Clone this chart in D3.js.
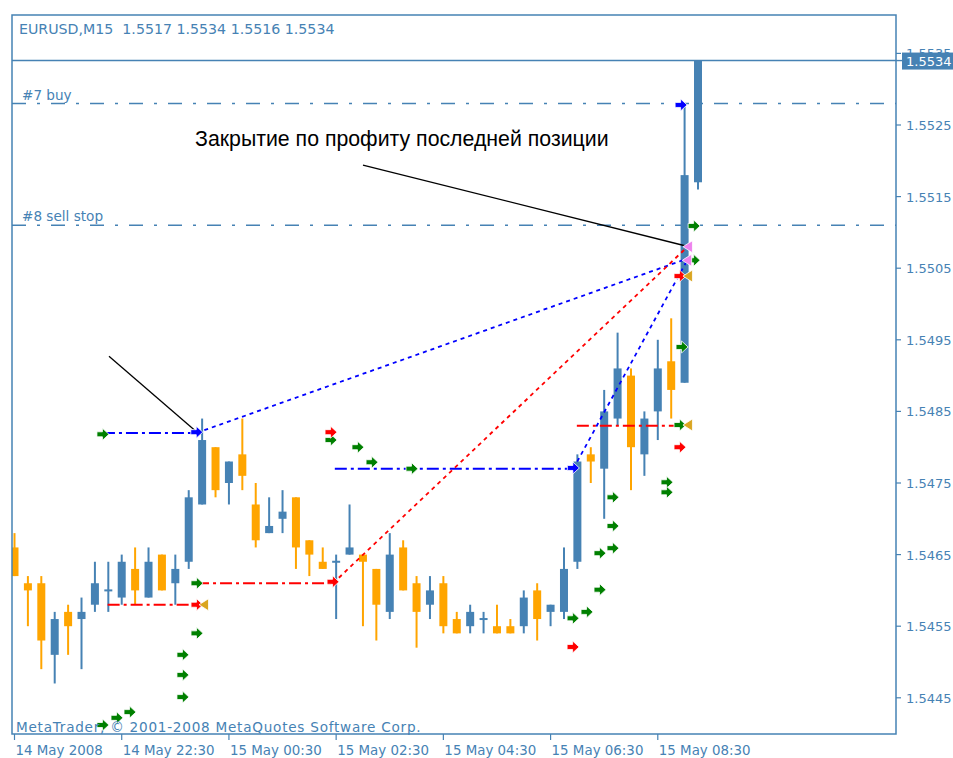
<!DOCTYPE html>
<html>
<head>
<meta charset="utf-8">
<script src="https://cdn.jsdelivr.net/npm/d3@7.9.0/dist/d3.min.js"></script>
<style>
    html, body { margin: 0; background: #fff; }
    svg { display: block; font-family: 'DejaVu Sans', sans-serif; }
</style>
</head>
<body>
<svg id="chart" width="953" height="758"></svg>
<script>
// header
const symbolTitle = 'EURUSD,M15';
const lastQuote = [1.5517, 1.5534, 1.5516, 1.5534];
const copyright = 'MetaTrader, © 2001-2008 MetaQuotes Software Corp.';

// M15 bars, 14 May 2008 20:30 .. 15 May 2008 09:15
const opens = [
    1.5466, 1.5461, 1.5461, 1.5451, 1.5457, 1.5456, 1.5458, 1.5460, 1.5459, 1.5463,
    1.5459, 1.5465, 1.5461, 1.5464, 1.5472, 1.5480, 1.5475, 1.5479, 1.5472, 1.5468,
    1.5470, 1.5473, 1.5467, 1.5464, 1.5464, 1.5465, 1.5465, 1.5463, 1.5457, 1.5466,
    1.5461, 1.5458, 1.5461, 1.5456, 1.5455, 1.5456, 1.5455, 1.5455, 1.5455, 1.5460,
    1.5457, 1.5457, 1.5464, 1.5479, 1.5477, 1.5484, 1.5490, 1.5479, 1.5485, 1.5492,
    1.5489, 1.5517,
];
const highs = [
    1.5468, 1.5462, 1.5462, 1.5457, 1.5458, 1.5459, 1.5464, 1.5464, 1.5465, 1.5466,
    1.5466, 1.5465, 1.5465, 1.5474, 1.5484, 1.5480, 1.5478, 1.5484, 1.5475, 1.5473,
    1.5474, 1.5473, 1.5467, 1.5466, 1.5465, 1.5472, 1.5465, 1.5463, 1.5468, 1.5467,
    1.5462, 1.5462, 1.5462, 1.5457, 1.5458, 1.5457, 1.5458, 1.5456, 1.5460, 1.5461,
    1.5458, 1.5466, 1.5479, 1.5480, 1.5488, 1.5496, 1.5491, 1.5485, 1.5495, 1.5498,
    1.5528, 1.5534,
];
const lows = [
    1.5462, 1.5455, 1.5449, 1.5447, 1.5451, 1.5449, 1.5457, 1.5457, 1.5458, 1.5458,
    1.5459, 1.5460, 1.5458, 1.5463, 1.5472, 1.5473, 1.5472, 1.5474, 1.5466, 1.5468,
    1.5468, 1.5463, 1.5462, 1.5463, 1.5456, 1.5465, 1.5455, 1.5453, 1.5456, 1.5460,
    1.5452, 1.5456, 1.5454, 1.5454, 1.5454, 1.5454, 1.5454, 1.5454, 1.5454, 1.5453,
    1.5455, 1.5456, 1.5463, 1.5475, 1.5470, 1.5483, 1.5474, 1.5476, 1.5481, 1.5484,
    1.5489, 1.5516,
];
const closes = [
    1.5462, 1.5460, 1.5453, 1.5456, 1.5455, 1.5457, 1.5461, 1.5460, 1.5464, 1.5460,
    1.5464, 1.5460, 1.5463, 1.5473, 1.5481, 1.5474, 1.5478, 1.5476, 1.5467, 1.5469,
    1.5471, 1.5466, 1.5465, 1.5463, 1.5464, 1.5466, 1.5464, 1.5458, 1.5465, 1.5460,
    1.5457, 1.5460, 1.5455, 1.5454, 1.5457, 1.5456, 1.5454, 1.5454, 1.5459, 1.5456,
    1.5458, 1.5463, 1.5478, 1.5478, 1.5485, 1.5491, 1.5480, 1.5484, 1.5491, 1.5488,
    1.5518, 1.5534,
];

const timeTickBars = [0, 8, 16, 24, 32, 40, 48];
const timeTickLabels = ['14 May 2008', '14 May 22:30', '15 May 00:30', '15 May 02:30',
    '15 May 04:30', '15 May 06:30', '15 May 08:30'];
const priceTicks = [1.5445, 1.5455, 1.5465, 1.5475, 1.5485, 1.5495, 1.5505, 1.5515, 1.5525, 1.5535];

// open orders
const orderLevels = [1.5528, 1.5511];
const orderLabels = ['#7 buy', '#8 sell stop'];

// pending orders until triggered (bar index is fractional time)
const pendingFrom = [6.6, 6.95, 13.62, 23.9, 41.96];
const pendingTo = [13.6, 13.62, 23.77, 41.7, 49.66];
const pendingPrice = [1.5482, 1.5458, 1.5461, 1.5477, 1.5483];
const pendingSide = ['buy', 'sell', 'sell', 'buy', 'sell'];

// deals from open to close
const dealOpenBar = [13.6, 23.77, 41.7];
const dealOpenPrice = [1.5482, 1.5461, 1.5477];
const dealCloseBar = [50.15, 50.22, 50.19];
const dealClosePrice = [1.55063, 1.5508, 1.55061];
const dealSide = ['buy', 'sell', 'buy'];

// arrows
const greenBars = [6.6, 13.62, 13.62, 12.57, 12.57, 12.57, 8.62, 7.65, 6.6, 23.62, 25.63, 26.68,
    29.66, 41.68, 42.72, 43.69, 43.69, 44.66, 44.66, 44.66, 48.69, 48.69, 49.66, 49.81, 50.71, 50.71];
const greenPrices = [1.54818, 1.5461, 1.5454, 1.5451, 1.54482, 1.54451, 1.5443, 1.54422, 1.54412,
    1.5481, 1.548, 1.54779, 1.5477, 1.54561, 1.5457, 1.54601, 1.54652, 1.54659, 1.5469, 1.5473,
    1.54751, 1.54737, 1.54831, 1.5494, 1.55109, 1.55061];
const redBars = [13.62, 23.62, 23.77, 41.68, 49.66, 49.66];
const redPrices = [1.5458, 1.54821, 1.54612, 1.54521, 1.548, 1.55039];
const blueBars = [13.6, 41.7, 49.74];
const bluePrices = [1.54821, 1.54771, 1.55278];
const goldBars = [14.14, 50.25, 50.25];
const goldPrices = [1.5458, 1.54831, 1.55039];
const violetBars = [50.25, 50.19];
const violetPrices = [1.5508, 1.55061];

// hand drawn notes
const noteText = 'Закрытие по профиту последней позиции';
const noteFrom = [[26.0, 1.55194], [7.05, 1.54927]];
const noteTo = [[50.1, 1.55081], [13.62, 1.54821]];

const steel = '#4682B4';
const bull = '#4682B4';
const bear = '#FFA500';
const sideColor = { buy: '#0000FF', sell: '#FF0000' };

const frame = { left: 12, right: 896, top: 15, bottom: 734 };

const svg = d3.select('#chart');
const x = d3.scaleLinear().domain([0, 51]).range([14.5, 698]);
const y = d3.scaleLinear().domain([1.5445, 1.5525]).range([697.8, 125]);

svg.append('defs').append('clipPath').attr('id', 'plot-clip')
    .append('rect')
    .attr('x', frame.left).attr('y', frame.top)
    .attr('width', frame.right - frame.left).attr('height', frame.bottom - frame.top);

const plot = svg.append('g').attr('clip-path', 'url(#plot-clip)');

// order level lines
orderLevels.forEach((level, k) => {
    plot.append('line')
        .attr('x1', frame.left).attr('x2', frame.right)
        .attr('y1', y(level)).attr('y2', y(level))
        .attr('stroke', steel).attr('stroke-width', 1.4)
        .attr('stroke-dasharray', '14,11,3,11');
    plot.append('text')
        .attr('x', 22).attr('y', y(level) - 4)
        .attr('fill', steel).attr('font-size', 13.6)
        .text(orderLabels[k]);
});

// bid line
plot.append('line')
    .attr('x1', frame.left).attr('x2', frame.right)
    .attr('y1', y(lastQuote[3])).attr('y2', y(lastQuote[3]))
    .attr('stroke', steel).attr('stroke-width', 1.4);

// candles
const bars = opens.map((o, i) => ({ i, o, h: highs[i], l: lows[i], c: closes[i] }));

plot.selectAll('line.wick').data(bars).join('line')
    .attr('class', 'wick')
    .attr('x1', (d) => x(d.i)).attr('x2', (d) => x(d.i))
    .attr('y1', (d) => y(d.h)).attr('y2', (d) => y(d.l))
    .attr('stroke', (d) => (d.c >= d.o ? bull : bear))
    .attr('stroke-width', 2);

plot.selectAll('rect.body').data(bars).join('rect')
    .attr('class', 'body')
    .attr('x', (d) => x(d.i) - 4)
    .attr('width', 8)
    .attr('y', (d) => (d.o === d.c ? y(d.o) - 1 : y(Math.max(d.o, d.c))))
    .attr('height', (d) => Math.max(2, Math.abs(y(d.o) - y(d.c))))
    .attr('fill', (d) => (d.c >= d.o ? bull : bear));

// pending order lines
pendingFrom.forEach((from, k) => {
    plot.append('line')
        .attr('x1', x(from)).attr('x2', x(pendingTo[k]))
        .attr('y1', y(pendingPrice[k])).attr('y2', y(pendingPrice[k]))
        .attr('stroke', sideColor[pendingSide[k]]).attr('stroke-width', 2)
        .attr('stroke-dasharray', '12,4,3,4');
});

// deal lines
dealOpenBar.forEach((bar, k) => {
    plot.append('line')
        .attr('x1', x(bar)).attr('y1', y(dealOpenPrice[k]))
        .attr('x2', x(dealCloseBar[k])).attr('y2', y(dealClosePrice[k]))
        .attr('stroke', sideColor[dealSide[k]]).attr('stroke-width', 1.8)
        .attr('stroke-dasharray', '4,4');
});

// note lines
noteFrom.forEach((p, k) => {
    plot.append('line')
        .attr('x1', x(p[0])).attr('y1', y(p[1]))
        .attr('x2', x(noteTo[k][0])).attr('y2', y(noteTo[k][1]))
        .attr('stroke', '#000').attr('stroke-width', 1.3);
});

const arrowPath = 'M-6,-2.5H-0.5V-6L6,0L-0.5,6V2.5H-6Z';
const trianglePath = 'M-5,0L4.5,-6V6Z';

function drawMarks(barsList, prices, path, color) {
    plot.append('g').selectAll('path').data(barsList).join('path')
        .attr('d', path)
        .attr('transform', (d, k) => `translate(${x(d)},${y(prices[k])})`)
        .attr('fill', color)
        .attr('stroke', '#fff').attr('stroke-width', 0.8);
}

drawMarks(greenBars, greenPrices, arrowPath, '#008000');
drawMarks(redBars, redPrices, arrowPath, '#FF0000');
drawMarks(blueBars, bluePrices, arrowPath, '#0000FF');
drawMarks(goldBars, goldPrices, trianglePath, '#DAA520');
drawMarks(violetBars, violetPrices, trianglePath, '#EE82EE');

// note text
plot.append('text')
    .attr('x', x(13.47)).attr('y', y(1.55221))
    .attr('font-family', "'Liberation Sans', Arial, sans-serif")
    .attr('font-size', 21.3)
    .attr('fill', '#000')
    .text(noteText);

// header and copyright
svg.append('text')
    .attr('x', 19).attr('y', 34)
    .attr('fill', steel).attr('font-size', 14.2)
    .attr('xml:space', 'preserve')
    .text(`${symbolTitle}  ${lastQuote.map((v) => v.toFixed(4)).join(' ')}`);

svg.append('text')
    .attr('x', 16).attr('y', 732)
    .attr('fill', steel).attr('font-size', 13.6)
    .attr('letter-spacing', 0.75)
    .text(copyright);

// frame
svg.append('rect')
    .attr('x', frame.left).attr('y', frame.top)
    .attr('width', frame.right - frame.left).attr('height', frame.bottom - frame.top)
    .attr('fill', 'none').attr('stroke', steel).attr('stroke-width', 1.5);

// price axis
const priceAxis = svg.append('g');
priceTicks.forEach((p) => {
    priceAxis.append('line')
        .attr('x1', frame.right).attr('x2', frame.right + 5)
        .attr('y1', y(p)).attr('y2', y(p))
        .attr('stroke', steel).attr('stroke-width', 1.2);
    priceAxis.append('text')
        .attr('x', frame.right + 10).attr('y', y(p) + 5)
        .attr('fill', steel).attr('font-size', 13)
        .text(p.toFixed(4));
});

// current price label, covering the top tick label as in the terminal
const bidY = y(lastQuote[3]);
priceAxis.append('line')
    .attr('x1', frame.right).attr('x2', 903)
    .attr('y1', bidY).attr('y2', bidY)
    .attr('stroke', steel).attr('stroke-width', 1.4);
priceAxis.append('rect')
    .attr('x', 902).attr('y', bidY - 8)
    .attr('width', 51).attr('height', 17)
    .attr('fill', steel);
priceAxis.append('text')
    .attr('x', frame.right + 10).attr('y', bidY + 5)
    .attr('fill', '#fff').attr('font-size', 13)
    .text(lastQuote[3].toFixed(4));

// time axis
const timeAxis = svg.append('g');
timeTickBars.forEach((b, k) => {
    timeAxis.append('line')
        .attr('x1', x(b)).attr('x2', x(b))
        .attr('y1', frame.bottom).attr('y2', frame.bottom + 6)
        .attr('stroke', steel).attr('stroke-width', 1.2);
    timeAxis.append('text')
        .attr('x', x(b) + 1).attr('y', 755)
        .attr('fill', steel).attr('font-size', 13.4)
        .text(timeTickLabels[k]);
});
</script>
</body>
</html>
